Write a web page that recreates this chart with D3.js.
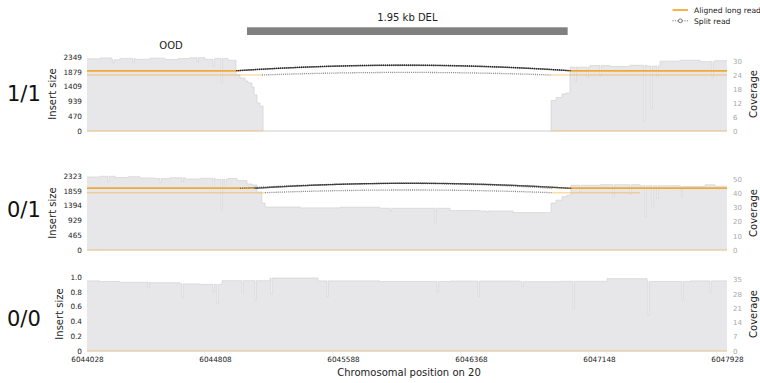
<!DOCTYPE html>
<html>
<head>
<meta charset="utf-8">
<script src="https://cdn.jsdelivr.net/npm/d3@7"></script>
<style>
  body { margin: 0; background: #fff; }
  svg { display: block; font-family: "DejaVu Sans", sans-serif; }
</style>
</head>
<body>
<svg id="chart" width="760" height="383"></svg>
<script>
// ---- region and variant ----
const regionStart = 6044028;
const regionEnd = 6047928;
const xTickValues = [6044028, 6044808, 6045588, 6046368, 6047148, 6047928];
const xAxisTitle = "Chromosomal position on 20";
const svStart = 6045003;
const svEnd = 6046957;
const svLabel = "1.95 kb DEL";
const sampleTag = "OOD";

// ---- samples (one track each) ----
const genotypes = ["1/1", "0/1", "0/0"];

// insert-size axis ticks per track
const insertTicks1 = [0, 470, 939, 1409, 1879, 2349];
const insertTicks2 = [0, 465, 929, 1394, 1859, 2323];
const insertTicks3 = [0, 0.2, 0.4, 0.6, 0.8, 1.0];
const insertTickLabels3 = ["0", "0.2", "0.4", "0.6", "0.8", "1.0"];

// coverage axis ticks and upper limits per track
const coverageTicks1 = [0, 6, 12, 18, 24, 30];
const coverageTicks2 = [0, 10, 20, 30, 40, 50];
const coverageTicks3 = [0, 7, 14, 21, 28, 35];
const coverageMax = [32, 52, 36.2];

// coverage profiles: [position, depth] steps (hold until next position)
const coverageSteps1 = [
  [6044028, 31.2], [6044107, 31.6], [6044180, 30.8], [6044229, 31.4], [6044321, 31.0],
  [6044412, 31.5], [6044503, 30.9], [6044583, 31.3], [6044656, 31.7], [6044747, 31.0],
  [6044808, 31.4], [6044887, 30.6], [6044936, 24.3], [6044960, 22.9], [6044991, 21.6],
  [6045009, 20.8], [6045033, 19.0], [6045046, 15.6], [6045064, 12.1], [6045082, 10.8],
  [6045101, 0], [6046856, 13.2], [6046886, 14.5], [6046923, 16.0], [6046947, 16.4],
  [6046971, 27.6], [6047093, 28.3], [6047215, 27.9], [6047337, 28.4], [6047440, 28.1],
  [6047520, 30.2], [6047642, 30.6], [6047763, 30.0], [6047855, 30.4]
];
const coverageDips1 = [
  [6044186, 29.5], [6044308, 29.8], [6044698, 30.0], [6044796, 28.0], [6044845, 20.8],
  [6047002, 21.3], [6047075, 23.0], [6047154, 24.0], [6047422, 4.0], [6047465, 9.8],
  [6047501, 23.5], [6047837, 23.0]
];

const coverageSteps2 = [
  [6044028, 51.3], [6044107, 51.8], [6044199, 50.9], [6044278, 51.5], [6044351, 50.6],
  [6044442, 50.2], [6044534, 50.8], [6044625, 49.9], [6044717, 50.4], [6044808, 49.6],
  [6044887, 50.3], [6044942, 48.8], [6045003, 46.4], [6045033, 45.7], [6045064, 40.8],
  [6045094, 33.0], [6045113, 30.2], [6045326, 29.6], [6045570, 30.0], [6045813, 29.3],
  [6046240, 27.7], [6046423, 27.4], [6046624, 26.3], [6046856, 33.0], [6046886, 35.0],
  [6046923, 37.5], [6046953, 38.5], [6046977, 45.5], [6047154, 45.9], [6047398, 45.2],
  [6047642, 44.6], [6047794, 45.8], [6047855, 44.8]
];
const coverageDips2 = [
  [6044156, 48.0], [6044473, 47.5], [6044607, 48.0], [6044796, 43.0], [6044845, 28.0],
  [6044869, 44.0], [6045874, 27.5], [6046149, 18.8], [6046466, 26.5], [6047032, 41.0],
  [6047233, 37.5], [6047337, 39.0], [6047428, 23.4], [6047471, 30.4], [6047501, 36.3],
  [6047650, 37.5]
];

const coverageSteps3 = [
  [6044028, 34.3], [6044107, 34.0], [6044229, 33.6], [6044412, 33.4], [6044595, 32.8],
  [6044717, 32.6], [6044851, 34.4], [6045143, 35.7], [6045436, 34.3], [6045813, 34.0],
  [6046240, 34.2], [6046667, 33.9], [6046910, 34.1], [6047197, 35.4], [6047441, 34.0],
  [6047703, 34.3]
];
const coverageDips3 = [
  [6044400, 30.8], [6044607, 26.0], [6044796, 29.0], [6044820, 23.3], [6044973, 28.4],
  [6045052, 25.0], [6045149, 27.9], [6045491, 26.6], [6046161, 29.0], [6046411, 26.6],
  [6046679, 31.5], [6046990, 20.9], [6047447, 17.6], [6047654, 25.0], [6047824, 29.0]
];

// split long reads: [left start, left end, right start, right end, gap size, arc top]
const splitReads1 = [
  [6044028, 6044936, 6046971, 6047928, 1914, 2090],
  [6044028, 6044942, 6046965, 6047928, 1914, 2085],
  [6044028, 6044948, 6046977, 6047928, 1914, 2095],
  [6044028, 6044960, 6046959, 6047928, 1914, 2080],
  [6044028, 6044936, 6046983, 6047928, 1914, 2092],
  [6044028, 6045094, 6046856, 6047928, 1778, 1860]
];
const splitReads2 = [
  [6044028, 6045064, 6046862, 6047928, 1937, 2090],
  [6044028, 6045058, 6046971, 6047928, 1937, 2098],
  [6044028, 6045052, 6046977, 6047928, 1937, 2094],
  [6044028, 6044960, 6046983, 6047928, 1937, 2092],
  [6044028, 6045046, 6046965, 6047928, 1937, 2096],
  [6044028, 6045113, 6046862, 6047398, 1799, 1884]
];
const splitReads3 = [];

// unsplit long reads (gap 0): [start, end]
const plainReads1 = [[6044028, 6045101], [6046856, 6047928]];
const plainReads2 = [[6044028, 6047928]];
const plainReads3 = [[6044028, 6047928]];

const legendLabels = ["Aligned long read", "Split read"];
const yLabelLeft = "Insert size";
const yLabelRight = "Coverage";

// ---- drawing ----
const svg = d3.select("#chart");
const plotLeft = 87, plotRight = 727;
const trackTops = [57, 176, 277];
const trackHeight = 74;
const leftLabelX = [52, 52, 59];
const genotypeBaselines = [100.7, 217, 326];
const dipWidth = 8;
const readColor = "#f5a11c";
const coverageFill = "#e7e7e9";

const x = d3.scaleLinear().domain([regionStart, regionEnd]).range([plotLeft, plotRight]);

const tracks = [
  { ins: insertTicks1, insLabels: insertTicks1.map(String), cov: coverageTicks1, steps: coverageSteps1, dips: coverageDips1, split: splitReads1, plain: plainReads1 },
  { ins: insertTicks2, insLabels: insertTicks2.map(String), cov: coverageTicks2, steps: coverageSteps2, dips: coverageDips2, split: splitReads2, plain: plainReads2 },
  { ins: insertTicks3, insLabels: insertTickLabels3, cov: coverageTicks3, steps: coverageSteps3, dips: coverageDips3, split: splitReads3, plain: plainReads3 }
];

function coverageSeries(steps, dips) {
  const valueAt = p => {
    let v = steps[0][1];
    for (const s of steps) if (s[0] <= p) v = s[1];
    return v;
  };
  const pts = steps.map(d => [d[0], d[1]]);
  dips.forEach(([p, v]) => {
    pts.push([p, v]);
    pts.push([p + dipWidth, valueAt(p + dipWidth)]);
  });
  pts.sort((a, b) => a[0] - b[0]);
  pts.push([regionEnd, pts[pts.length - 1][1]]);
  return pts;
}

tracks.forEach((t, i) => {
  const top = trackTops[i], bottom = top + trackHeight;
  const yIns = d3.scaleLinear().domain([0, t.ins[t.ins.length - 1]]).range([bottom, top]);
  const yCov = d3.scaleLinear().domain([0, coverageMax[i]]).range([bottom, top]);
  const g = svg.append("g");

  // coverage
  const series = coverageSeries(t.steps, t.dips);
  g.append("path").datum(series)
    .attr("fill", coverageFill)
    .attr("d", d3.area().x(d => x(d[0])).y0(bottom).y1(d => yCov(d[1])).curve(d3.curveStepAfter));
  g.append("path").datum(series)
    .attr("fill", "none").attr("stroke", "#d2d2d4").attr("stroke-width", 0.7)
    .attr("d", d3.line().x(d => x(d[0])).y(d => yCov(d[1])).curve(d3.curveStepAfter));

  // baseline
  g.append("line").attr("x1", plotLeft).attr("x2", plotRight)
    .attr("y1", bottom).attr("y2", bottom)
    .attr("stroke", "#dcdcdc").attr("stroke-width", 1);

  // unsplit reads at gap 0
  g.selectAll(".plain").data(t.plain).join("line")
    .attr("x1", d => x(d[0])).attr("x2", d => x(d[1]))
    .attr("y1", yIns(0)).attr("y2", yIns(0))
    .attr("stroke", readColor).attr("stroke-opacity", 0.3).attr("stroke-width", 1.6);

  // aligned segments of split reads
  t.split.forEach(r => {
    [[r[0], r[1]], [r[2], r[3]]].forEach(seg => {
      g.append("line")
        .attr("x1", x(seg[0])).attr("x2", x(seg[1]))
        .attr("y1", yIns(r[4])).attr("y2", yIns(r[4]))
        .attr("stroke", readColor).attr("stroke-opacity", 0.36).attr("stroke-width", 1.6);
    });
  });

  // split connections
  t.split.forEach(r => {
    const x1 = x(r[1]), x2 = x(r[2]);
    const yEnd = yIns(r[4]), yTop = yIns(r[5]);
    const cy = 2 * yTop - yEnd;
    g.append("path")
      .attr("d", `M${x1},${yEnd} Q${(x1 + x2) / 2},${cy} ${x2},${yEnd}`)
      .attr("fill", "none").attr("stroke", "#000").attr("stroke-opacity", 0.45)
      .attr("stroke-width", 1.3).attr("stroke-dasharray", "1.1,1");
  });

  // left axis
  const axL = g.append("g").attr("transform", `translate(${plotLeft},0)`)
    .call(d3.axisLeft(yIns).tickValues(t.ins).tickFormat((d, k) => t.insLabels[k]).tickSize(0).tickPadding(5));
  axL.select(".domain").remove();
  axL.selectAll("text").attr("font-size", 7.3).attr("fill", "#222").attr("font-family", "DejaVu Sans");

  // right axis
  const axR = g.append("g").attr("transform", `translate(${plotRight},0)`)
    .call(d3.axisRight(yCov).tickValues(t.cov).tickSize(0).tickPadding(6));
  axR.select(".domain").remove();
  axR.selectAll("text").attr("font-size", 7).attr("fill", "#a8a8a8").attr("font-family", "DejaVu Sans");

  // axis titles
  const mid = top + trackHeight / 2;
  g.append("text").attr("transform", `translate(${leftLabelX[i]},${mid}) rotate(-90)`)
    .attr("text-anchor", "middle").attr("dy", "0.35em")
    .attr("font-size", 10).attr("fill", "#222").text(yLabelLeft);
  g.append("text").attr("transform", `translate(753,${mid}) rotate(-90)`)
    .attr("text-anchor", "middle").attr("dy", "0.35em")
    .attr("font-size", 10).attr("fill", "#222").text(yLabelRight);

  // genotype
  g.append("text").attr("x", 7).attr("y", genotypeBaselines[i])
    .attr("font-size", 21).attr("fill", "#111").text(genotypes[i]);

  if (i === tracks.length - 1) {
    const axB = g.append("g").attr("transform", `translate(0,${bottom})`)
      .call(d3.axisBottom(x).tickValues(xTickValues).tickFormat(d3.format("d")).tickSize(0).tickPadding(6));
    axB.select(".domain").remove();
    axB.selectAll("text").attr("font-size", 7.3).attr("fill", "#222").attr("font-family", "DejaVu Sans");
  }
});

// variant bar and title
svg.append("rect").attr("x", x(svStart)).attr("width", x(svEnd) - x(svStart))
  .attr("y", 27.3).attr("height", 7.7).attr("fill", "#808080");
svg.append("text").attr("x", (x(svStart) + x(svEnd)) / 2).attr("y", 20.5)
  .attr("text-anchor", "middle").attr("font-size", 10).attr("fill", "#222").text(svLabel);
svg.append("text").attr("x", 171).attr("y", 49.3)
  .attr("text-anchor", "middle").attr("font-size", 10).attr("fill", "#222").text(sampleTag);

// x-axis title
svg.append("text").attr("x", 409).attr("y", 375.5)
  .attr("text-anchor", "middle").attr("font-size", 10).attr("fill", "#222").text(xAxisTitle);

// legend
const lg = svg.append("g");
lg.append("line").attr("x1", 672.5).attr("x2", 688).attr("y1", 10).attr("y2", 10)
  .attr("stroke", readColor).attr("stroke-width", 1.6);
lg.append("line").attr("x1", 672.5).attr("x2", 688).attr("y1", 20.8).attr("y2", 20.8)
  .attr("stroke", "#666").attr("stroke-width", 1).attr("stroke-dasharray", "1,1.4");
lg.append("circle").attr("cx", 680.3).attr("cy", 20.8).attr("r", 1.9)
  .attr("fill", "#fff").attr("stroke", "#555").attr("stroke-width", 0.8);
lg.selectAll(".lt").data(legendLabels).join("text")
  .attr("x", 694).attr("y", (d, k) => 13 + k * 10.5)
  .attr("font-size", 7.6).attr("fill", "#222").text(d => d);
</script>
</body>
</html>
